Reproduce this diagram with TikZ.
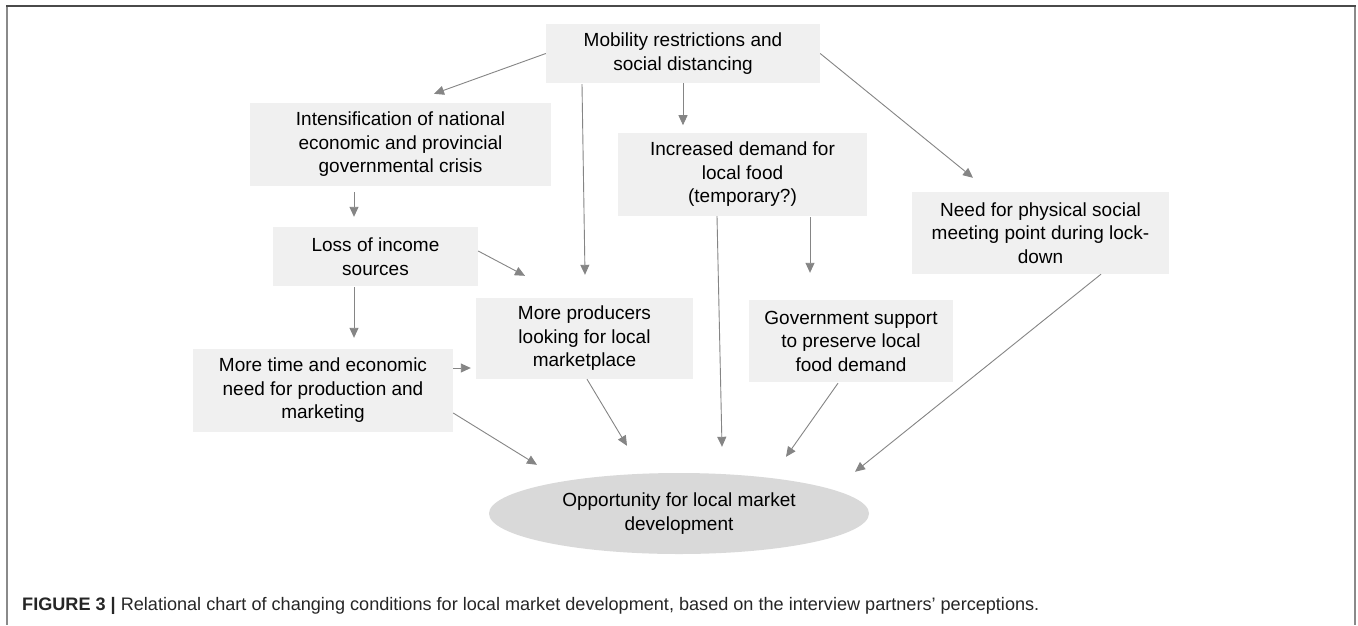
\documentclass[tikz,border=0pt]{standalone}
\usepackage{fontspec}
\setmainfont{Liberation Sans}
\usetikzlibrary{arrows.meta,shapes.geometric,calc}

\definecolor{boxfill}{HTML}{F0F0F0}
\definecolor{ellfill}{HTML}{D9D9D9}
\definecolor{linkgray}{HTML}{858585}
\definecolor{frametop}{HTML}{4A4A4A}
\definecolor{frameside}{HTML}{8A8A8A}
\definecolor{captext}{HTML}{262626}

\tikzset{
  factor/.style={rectangle, fill=boxfill, draw=none, inner sep=0pt,
    align=center, font=\fontsize{19}{23.5}\selectfont},
  outcome/.style={ellipse, fill=ellfill, draw=none, inner sep=0pt,
    align=center, font=\fontsize{19}{23.5}\selectfont},
  link/.style={draw=linkgray, line width=0.9pt,
    -{Triangle[length=10pt,width=9pt]}},
}

\begin{document}
\begin{tikzpicture}[x=1pt, y=-1pt]
  \useasboundingbox (0,0) rectangle (1358,625);
  \fill[white] (0,0) rectangle (1358,625);

  % frame around the figure
  \draw[frameside, line width=2pt] (7,6) -- (7,625);
  \draw[frameside, line width=2pt] (1355,6) -- (1355,625);
  \draw[frametop, line width=1.5pt] (6,6) -- (1356,6);

  % factors
  \node[factor, minimum width=274pt, minimum height=59pt] (mob) at (683,53.5)
    {Mobility restrictions and\\social distancing};
  \node[factor, minimum width=301pt, minimum height=83pt] (int) at (400.5,144.5)
    {Intensification of national\\economic and provincial\\governmental crisis};
  \node[factor, minimum width=249pt, minimum height=83pt] (inc) at (742.5,174.5)
    {Increased demand for\\local food\\(temporary?)};
  \node[factor, minimum width=257pt, minimum height=82pt] (need) at (1040.5,233)
    {Need for physical social\\meeting point during lock-\\down};
  \node[factor, minimum width=205pt, minimum height=59pt] (loss) at (375.5,256.5)
    {Loss of income\\sources};
  \node[factor, minimum width=217pt, minimum height=81pt] (prod) at (584.5,338.5)
    {More producers\\looking for local\\marketplace};
  \node[factor, minimum width=204pt, minimum height=82pt] (gov) at (851,341)
    {Government support\\to preserve local\\food demand};
  \node[factor, minimum width=260pt, minimum height=83pt] (time) at (323,390.5)
    {More time and economic\\need for production and\\marketing};

  % outcome
  \node[outcome, minimum width=380pt, minimum height=81pt] (opp) at (679,513.5)
    {Opportunity for local market\\development};

  % relations
  \draw[link] (mob.west) -- ($(int.north)+(33.5,-9)$);
  \draw[link] ($(mob.south)+(-101,1)$) -- ($(prod.north)+(0.5,-23)$);
  \draw[link] (mob.south) -- ($(mob.south)+(0,42)$);
  \draw[link] (mob.east) -- ($(need.north)+(-67.5,-14)$);
  \draw[link] ($(int.south)+(-46.5,6)$) -- ($(loss.north)+(-21.5,-10)$);
  \draw[link] ($(loss.east)+(0,-5.5)$) -- ($(prod.north)+(-59.5,-22)$);
  \draw[link] ($(loss.south)+(-21.5,1)$) -- ($(time.north)+(31,-11)$);
  \draw[link] ($(time.east)+(0,-22.5)$) -- ($(prod.west)+(-5,29.5)$);
  \draw[link] ($(time.east)+(0,22.5)$) -- ($(opp.north)+(-142,-8)$);
  \draw[link] ($(prod.south)+(2.5,0)$) -- ($(opp.north)+(-52,-27)$);
  \draw[link] ($(inc.south)+(-25.5,0)$) -- ($(opp.north)+(43,-26)$);
  \draw[link] ($(inc.south)+(67.5,1)$) -- ($(gov.north)+(-41,-27)$);
  \draw[link] ($(gov.south)+(-13,1)$) -- ($(opp.north)+(107,-16)$);
  \draw[link] ($(need.south)+(60.5,0)$) -- ($(opp.north)+(176,-1)$);

  % caption
  \node[anchor=base west, inner sep=0pt, text=captext,
        font=\fontsize{18.1}{21}\selectfont] (cap) at (22,610)
    {\textbf{FIGURE 3 |} Relational chart of changing conditions for local market development, based on the interview partners' perceptions.};
\end{tikzpicture}
\end{document}
